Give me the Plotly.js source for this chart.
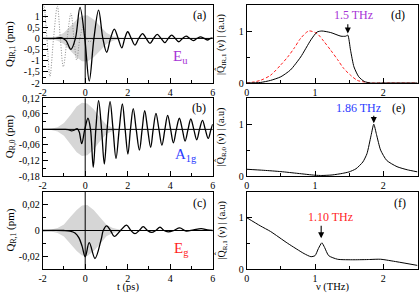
<!DOCTYPE html>
<html><head><meta charset="utf-8">
<script src="https://cdn.plot.ly/plotly-3.0.1.min.js"></script>
<style>html,body{margin:0;padding:0;background:#fff}#plot{width:419px;height:295px}</style>
</head><body><div id="plot"></div>
<script>
// ---------- time-domain data (ps) ----------
const envT  = [-2, -1.6, -1.3, -1.0, -0.7, -0.4, -0.15, 0.1, 0.4, 0.7, 1.0, 1.3, 1.6, 2.0];
const envA  = [0, 0.03, 0.1, 0.25, 0.55, 0.85, 1.02, 1.04, 0.85, 0.55, 0.25, 0.1, 0.03, 0];
const envB  = [0, 0.002, 0.008, 0.025, 0.055, 0.088, 0.103, 0.1, 0.078, 0.045, 0.018, 0.005, 0.001, 0];
const envC  = [0, 0.0008, 0.002, 0.0046, 0.0105, 0.016, 0.0195, 0.0198, 0.016, 0.0105, 0.0045, 0.002, 0.0008, 0];

const aT = [-2, -1.4, -1.1, -0.9, -0.67, -0.46, -0.245, -0.02, 0.19, 0.41, 0.63, 0.83, 1.01, 1.19, 1.37, 1.55, 1.72, 1.86, 2.0, 2.17, 2.34, 2.52, 2.7, 2.87, 3.05, 3.22, 3.39, 3.57, 3.75, 3.91, 4.07, 4.24, 4.41, 4.58, 4.75, 4.92, 5.09, 5.26, 5.43, 5.6, 5.77, 5.9, 6.0];
const aQ = [0, 0, 0.03, -0.1, -0.49, 0, 1.39, 0, -1.91, 0, 1.27, 0, -0.62, 0, 0.42, 0, -0.42, 0, 0.3, 0, -0.3, 0, 0.22, 0, -0.22, 0, 0.18, 0, -0.19, 0, 0.15, 0, -0.15, 0, 0.1, 0, -0.1, 0, 0.07, 0, -0.07, 0, 0.03];

const pumpT = [-2, -1.95, -1.8, -1.66, -1.49, -1.31, -1.17, -1.03, -0.85, -0.67, -0.53, -0.4, -0.25, -0.1, 0.05, 0.2, 0.4];
const pumpQ = [1.2, 1.6, 0, -1.7, 0, 1.45, 0, -1.27, 0, 1.12, 0, -0.97, 0, 0.5, 0, -0.15, 0];

const bT = [-2, -1.0, -0.8, -0.64, -0.5, -0.38, -0.28, -0.165, -0.02, 0.13, 0.25, 0.38, 0.5, 0.63, 0.77, 0.9, 1.03, 1.17, 1.31, 1.45, 1.6, 1.75, 1.88, 2.01, 2.13, 2.26, 2.4, 2.55, 2.68, 2.8, 2.94, 3.08, 3.2, 3.33, 3.47, 3.61, 3.75, 3.88, 4.02, 4.15, 4.29, 4.43, 4.57, 4.7, 4.84, 4.97, 5.11, 5.25, 5.38, 5.52, 5.65, 5.79, 5.92, 6.0];
const bQ = [0, 0, -0.001, -0.006, -0.002, 0.003, -0.01, -0.055, 0, 0.043, 0, -0.146, 0, 0.111, 0, -0.134, 0, 0.107, 0, -0.112, 0, 0.098, 0, -0.095, 0, 0.08, 0, -0.08, 0, 0.072, 0, -0.069, 0, 0.062, 0, -0.061, 0, 0.054, 0, -0.052, 0, 0.043, 0, -0.045, 0, 0.04, 0, -0.04, 0, 0.035, 0, -0.035, 0, 0.02];

const cT = [-2, -1.0, -0.71, -0.48, -0.3, -0.15, 0, 0.19, 0.46, 0.75, 0.85, 1.01, 1.19, 1.37, 1.66, 1.95, 2.15, 2.34, 2.54, 2.73, 2.93, 3.13, 3.32, 3.52, 3.71, 3.9, 4.17, 4.45, 4.75, 5.1, 5.46, 5.75, 6.0];
const cQ = [0, 0, -0.0005, -0.002, -0.0056, -0.012, -0.0205, -0.0095, -0.0218, -0.007, 0, 0.0036, 0, -0.0046, 0, 0.0042, 0, -0.0025, 0, 0.003, 0, -0.0015, 0, 0.0026, 0, -0.001, 0, 0.002, -0.0005, 0.0005, 0.0015, 0.0005, 0];

// ---------- spectra (THz) ----------
const dNu   = [0, 0.2, 0.35, 0.5, 0.64, 0.79, 0.94, 1.03, 1.1, 1.23, 1.38, 1.45, 1.48, 1.52, 1.57, 1.64, 1.72, 1.81, 2.0, 2.5];
const dAbs  = [0, 0.01, 0.05, 0.12, 0.25, 0.5, 0.83, 0.98, 1.0, 0.97, 0.9, 0.9, 0.92, 0.63, 0.31, 0.12, 0.03, 0, 0, 0];
const dRedNu = [0, 0.1, 0.2, 0.35, 0.5, 0.6, 0.7, 0.79, 0.91, 1.03, 1.13, 1.23, 1.33, 1.42, 1.52, 1.62, 1.72, 1.81, 2.0, 2.5];
const dRed   = [0, 0.02, 0.05, 0.15, 0.35, 0.5, 0.68, 0.86, 1.0, 0.95, 0.8, 0.63, 0.45, 0.28, 0.15, 0.05, 0.02, 0, 0, 0];
const eNu  = [0, 0.25, 0.5, 0.75, 1.0, 1.1, 1.25, 1.4, 1.5, 1.6, 1.7, 1.76, 1.82, 1.86, 1.9, 1.96, 2.05, 2.2, 2.35, 2.5];
const eAbs = [0.13, 0.11, 0.085, 0.05, 0.015, 0.01, 0.02, 0.05, 0.08, 0.14, 0.27, 0.43, 0.78, 1.0, 0.8, 0.5, 0.3, 0.18, 0.12, 0.08];
const fNu  = [0, 0.2, 0.35, 0.6, 0.84, 0.94, 1.0, 1.05, 1.1, 1.14, 1.2, 1.33, 1.57, 1.8, 1.96, 2.2, 2.5];
const fAbs = [1.0, 0.84, 0.73, 0.5, 0.3, 0.24, 0.26, 0.4, 0.51, 0.42, 0.26, 0.19, 0.18, 0.185, 0.19, 0.14, 0.07];

// ---------- tick labels ----------
const tTicks = [-2, 0, 2, 4, 6];
const tTickText = ['-2', '0', '2', '4', '6'];
const aTicks = [-2, -1.5, -1, -0.5, 0, 0.5, 1, 1.5];
const aTickText = ['-2', '-1,5', '-1', '-0,5', '0', '0,5', '1', '1,5'];
const bTicks = [-0.18, -0.12, -0.06, 0, 0.06, 0.12];
const bTickText = ['-0,18', '-0,12', '-0,06', '0', '0,06', '0,12'];
const cTicks = [-0.02, 0, 0.02];
const cTickText = ['-0,02', '0', '0,02'];
const nuTicks = [0, 1, 2];
const nuTickText = ['0', '1', '2'];
const specTicks = [0, 1];
const specTickText = ['0', '1'];

const PURPLE = '#a733d6', BLUE = '#2b3bff', RED = '#ff1f1f';

function band(t, e, xa, ya) {
  const x = t.concat(t.slice().reverse());
  const y = e.concat(e.map(v => -v).reverse());
  return {x, y, xaxis: xa, yaxis: ya, type: 'scatter', mode: 'lines', fill: 'toself',
    fillcolor: '#d6d6d6', line: {width: 0}, hoverinfo: 'skip', showlegend: false};
}
function curve(x, y, xa, ya, extra) {
  return Object.assign({x, y, xaxis: xa, yaxis: ya, type: 'scatter', mode: 'lines',
    line: {color: 'black', width: 1.3, shape: 'spline', smoothing: 1}, showlegend: false}, extra || {});
}

const data = [
  band(envT, envA, 'x', 'y'),
  curve(pumpT, pumpQ, 'x', 'y', {line: {color: '#8a8a8a', width: 1, dash: '1px,1.6px', shape: 'spline', smoothing: 1}}),
  curve(aT, aQ, 'x', 'y'),
  band(envT, envB, 'x2', 'y2'),
  curve(bT, bQ, 'x2', 'y2'),
  band(envT, envC, 'x3', 'y3'),
  curve(cT, cQ, 'x3', 'y3'),
  curve(dRedNu, dRed, 'x4', 'y4', {line: {color: RED, width: 1, dash: '3px,2px', shape: 'spline', smoothing: 0.8}}),
  curve(dNu, dAbs, 'x4', 'y4', {line: {color: 'black', width: 1, shape: 'spline', smoothing: 0.6}}),
  curve(eNu, eAbs, 'x5', 'y5', {line: {color: 'black', width: 1, shape: 'spline', smoothing: 0.6}}),
  curve(fNu, fAbs, 'x6', 'y6', {line: {color: 'black', width: 1, shape: 'spline', smoothing: 0.6}})
];

const L = [42.7/419, 212.7/419], R = [246.7/419, 417.5/419];
const row1 = [(295-83)/295, (295-5)/295], row2 = [(295-176)/295, (295-98.3)/295], row3 = [(295-269)/295, (295-192)/295];

function ax(domain, anchor, range, vals, text, minorDtick) {
  return {domain, anchor, range, tickmode: 'array', tickvals: vals, ticktext: text,
    showline: true, mirror: true, linecolor: 'black', linewidth: 1,
    ticks: 'inside', ticklen: 5, tickwidth: 1, tickcolor: 'black',
    showgrid: false, zeroline: false, automargin: false,
    tickfont: {size: 10, color: 'black'},
    minor: {ticks: 'inside', ticklen: 3, tickcolor: 'black', dtick: minorDtick, tick0: 0, showgrid: false}};
}

const layout = {
  width: 419, height: 295, margin: {l: 0, r: 0, t: 0, b: 0},
  paper_bgcolor: 'white', plot_bgcolor: 'white', showlegend: false,
  font: {family: 'Liberation Serif, Times New Roman, serif', color: 'black', size: 10},
  xaxis:  ax(L, 'y',  [-2, 6], tTicks, tTickText, 1),
  yaxis:  ax(row1, 'x', [-2, 1.5], aTicks, aTickText, 0.25),
  xaxis2: ax(L, 'y2', [-2, 6], tTicks, tTickText, 1),
  yaxis2: ax(row2, 'x2', [-0.18, 0.12], bTicks, bTickText, 0.03),
  xaxis3: ax(L, 'y3', [-2, 6], tTicks, tTickText, 1),
  yaxis3: ax(row3, 'x3', [-0.03, 0.03], cTicks, cTickText, 0.01),
  xaxis4: ax(R, 'y4', [0, 2.5], nuTicks, nuTickText, 0.5),
  yaxis4: ax(row1, 'x4', [0, 1.5], specTicks, specTickText, 0.5),
  xaxis5: ax(R, 'y5', [0, 2.5], nuTicks, nuTickText, 0.5),
  yaxis5: ax(row2, 'x5', [0, 1.5], specTicks, specTickText, 0.5),
  xaxis6: ax(R, 'y6', [0, 2.5], nuTicks, nuTickText, 0.5),
  yaxis6: ax(row3, 'x6', [0, 1.5], specTicks, specTickText, 0.5),
  shapes: [],
  annotations: []
};

// zero reference lines in the time panels
[['x','y'],['x2','y2'],['x3','y3']].forEach(([xa, ya]) => {
  layout.shapes.push({type: 'line', xref: xa + ' domain', yref: ya, x0: 0, x1: 1, y0: 0, y1: 0, line: {color: 'black', width: 1}, layer: 'above'});
  layout.shapes.push({type: 'line', xref: xa, yref: ya + ' domain', x0: 0, x1: 0, y0: 0, y1: 1, line: {color: 'black', width: 1}, layer: 'above'});
});

// axis titles (placed as paper annotations)
const rowsMid = [row1, row2, row3].map(r => (r[0] + r[1]) / 2);
const leftTitles = ['Q<sub>IR,1</sub> (pm)', 'Q<sub>R,0</sub> (pm)', 'Q<sub>R,1</sub> (pm)'];
const rightTitles = ['|Q\u0302<sub>IR,1</sub> (ν) | (a.u)', '|Q\u0302<sub>R,0</sub> (ν) | (a.u)', '|Q\u0302<sub>R,1</sub> (ν) | (a.u)'];
leftTitles.forEach((t, i) => layout.annotations.push({text: t, xref: 'paper', yref: 'paper', x: 10/419, y: rowsMid[i],
  textangle: -90, showarrow: false, font: {size: 11}, xanchor: 'center', yanchor: 'middle'}));
rightTitles.forEach((t, i) => layout.annotations.push({text: t, xref: 'paper', yref: 'paper', x: 221/419, y: rowsMid[i],
  textangle: -90, showarrow: false, font: {size: 10}, xanchor: 'center', yanchor: 'middle'}));
layout.annotations.push({text: 't (ps)', xref: 'paper', yref: 'paper', x: 128/419, y: 0, showarrow: false, font: {size: 10.5}, xanchor: 'center', yanchor: 'bottom'});
layout.annotations.push({text: 'ν (THz)', xref: 'paper', yref: 'paper', x: 333/419, y: 0, showarrow: false, font: {size: 10.5}, xanchor: 'center', yanchor: 'bottom'});

// panel letters
const letters = [['(a)','x','y',0.975,0.87],['(b)','x2','y2',0.975,0.87],['(c)','x3','y3',0.975,0.86],
                 ['(d)','x4','y4',0.94,0.87],['(e)','x5','y5',0.94,0.87],['(f)','x6','y6',0.945,0.86]];
letters.forEach(([t, xa, ya, x, y]) => layout.annotations.push({text: t, xref: xa + ' domain', yref: ya + ' domain',
  x, y, xanchor: 'right', yanchor: 'middle', showarrow: false, font: {size: 12, color: 'black'}}));

// mode labels
layout.annotations.push({text: 'E<sub>u</sub>', xref: 'x', yref: 'y', x: 4.5, y: -0.85, showarrow: false, font: {size: 15, color: PURPLE}});
layout.annotations.push({text: 'A<sub>1g</sub>', xref: 'x2', yref: 'y2', x: 4.75, y: -0.1, showarrow: false, font: {size: 15, color: BLUE}});
layout.annotations.push({text: 'E<sub>g</sub>', xref: 'x3', yref: 'y3', x: 4.55, y: -0.0145, showarrow: false, font: {size: 15, color: RED}});

// frequency labels + arrows
function arrow(xa, ya, x, y, ay) {
  layout.annotations.push({text: ' ', font: {size: 1}, xref: xa, yref: ya, x, y, axref: xa, ayref: ya, ax: x, ay,
    showarrow: true, arrowhead: 2, arrowsize: 1.1, arrowwidth: 1.1, arrowcolor: 'black', standoff: 0, startstandoff: 0});
}
layout.annotations.push({text: '1.5 THz', xref: 'x4', yref: 'y4', x: 1.57, y: 1.3, showarrow: false, font: {size: 12, color: PURPLE}});
arrow('x4', 'y4', 1.48, 0.95, 1.17);
layout.annotations.push({text: '1.86 THz', xref: 'x5', yref: 'y5', x: 1.63, y: 1.31, showarrow: false, font: {size: 12, color: BLUE}});
arrow('x5', 'y5', 1.86, 1.02, 1.2);
layout.annotations.push({text: '1.10 THz', xref: 'x6', yref: 'y6', x: 1.23, y: 1.02, showarrow: false, font: {size: 12, color: RED}});
arrow('x6', 'y6', 1.09, 0.6, 0.88);

Plotly.newPlot('plot', data, layout, {staticPlot: true, displayModeBar: false});
</script>
</body></html>
